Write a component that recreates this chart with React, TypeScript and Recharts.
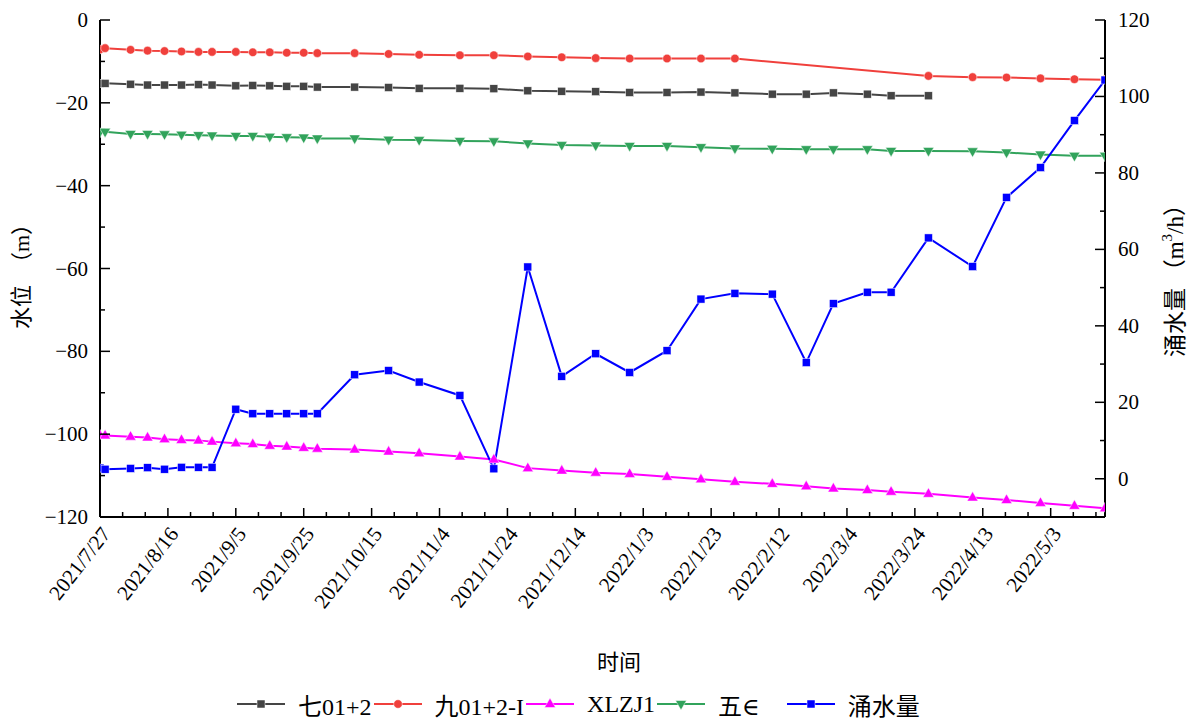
import React from 'react';
import { LineChart, Line, XAxis, YAxis } from 'recharts';

// days since 2021/7/27 for each sampling
const days = [0, 1.5, 9, 14, 19, 24, 29, 33, 40, 45, 50, 55, 60, 64, 75, 85, 94, 106, 116, 126, 136, 146, 156, 167, 177, 187, 198, 208, 216, 226, 233, 244, 257, 267, 277, 287, 296];

const qi = [-15.3, -15.3, -15.5, -15.7, -15.7, -15.7, -15.6, -15.7, -15.9, -15.8, -15.9, -16.0, -16.0, -16.2, -16.2, -16.3, -16.5, -16.5, -16.6, -17.1, -17.2, -17.3, -17.5, -17.5, -17.4, -17.6, -17.9, -17.9, -17.6, -17.9, -18.3, -18.3, null, null, null, null, null];
const jiu = [-7.1, -6.8, -7.2, -7.4, -7.5, -7.6, -7.7, -7.7, -7.7, -7.8, -7.8, -7.9, -7.9, -8.0, -8.0, -8.2, -8.4, -8.5, -8.5, -8.8, -9.0, -9.2, -9.3, -9.3, -9.3, -9.3, null, null, null, null, null, -13.5, -13.8, -13.9, -14.1, -14.3, -14.4];
const xlzj = [-100.3, -100.3, -100.6, -100.8, -101.2, -101.4, -101.5, -101.8, -102.2, -102.4, -102.8, -103.0, -103.3, -103.5, -103.7, -104.2, -104.6, -105.4, -106.1, -108.2, -108.8, -109.3, -109.6, -110.3, -110.9, -111.5, -112.0, -112.6, -113.1, -113.5, -113.9, -114.4, -115.3, -115.9, -116.6, -117.3, -117.9];
const wu = [-27.0, -27.0, -27.5, -27.5, -27.6, -27.7, -27.8, -27.9, -28.0, -28.0, -28.2, -28.3, -28.4, -28.6, -28.6, -28.9, -29.0, -29.2, -29.3, -29.8, -30.2, -30.3, -30.4, -30.4, -30.7, -31.0, -31.1, -31.2, -31.2, -31.2, -31.6, -31.6, -31.7, -32.0, -32.5, -32.8, -32.8];
const inflow = [2.8, 2.5, 2.7, 2.9, 2.5, 3.0, 3.0, 3.0, 18.2, 17.0, 17.0, 17.0, 17.0, 17.0, 27.2, 28.3, 25.3, 21.8, 2.6, 55.4, 26.8, 32.7, 27.8, 33.5, 47.0, 48.5, 48.3, 30.4, 45.8, 48.8, 48.8, 63.0, 55.5, 73.6, 81.4, 93.7, 104.3];

const xTickLabels = ['2021/7/27', '2021/8/16', '2021/9/5', '2021/9/25', '2021/10/15', '2021/11/4', '2021/11/24', '2021/12/14', '2022/1/3', '2022/1/23', '2022/2/12', '2022/3/4', '2022/3/24', '2022/4/13', '2022/5/3'];
const leftTicks = [-120, -110, -100, -90, -80, -70, -60, -50, -40, -30, -20, -10, 0];
const rightTicks = [-10, 0, 10, 20, 30, 40, 50, 60, 70, 80, 90, 100, 110, 120];

const FONT = "'Liberation Serif', 'Times New Roman', 'DejaVu Serif', 'Noto Sans CJK SC', serif";

const series = [
  { key: 'qi', name: '七01+2', color: '#454545', shape: 'square', values: qi },
  { key: 'jiu', name: '九01+2-I', color: '#F0403C', shape: 'circle', values: jiu },
  { key: 'xlzj', name: 'XLZJ1', color: '#FF00FF', shape: 'triUp', values: xlzj },
  { key: 'wu', name: '五∈', color: '#31A35B', shape: 'triDown', values: wu },
  { key: 'inflow', name: '涌水量', color: '#0000FF', shape: 'square', values: inflow, right: true },
];

const data = days.map((d, i) => {
  const row: any = { day: d };
  series.forEach((s) => { row[s.key] = s.values[i]; });
  return row;
});

// x ticks: majors every 20 days, two minors in between
const xTicks: number[] = [];
for (let k = 0; (k * 20) / 3 <= 296; k++) xTicks.push((k * 20) / 3);

function Marker({ shape, color, cx, cy }: any) {
  if (shape === 'circle') return <circle cx={cx} cy={cy} r={4.3} fill={color} stroke="#fff" strokeWidth={0.5} />;
  if (shape === 'triUp') return <polygon points={`${cx},${cy - 6} ${cx + 5.5},${cy + 3.5} ${cx - 5.5},${cy + 3.5}`} fill={color} stroke="#fff" strokeWidth={0.5} />;
  if (shape === 'triDown') return <polygon points={`${cx},${cy + 6} ${cx + 5.5},${cy - 3.5} ${cx - 5.5},${cy - 3.5}`} fill={color} stroke="#fff" strokeWidth={0.5} />;
  return <rect x={cx - 4} y={cy - 4} width={8} height={8} fill={color} stroke="#fff" strokeWidth={0.5} />;
}

const makeDot = (shape: string, color: string) => (props: any) => {
  const { cx, cy, index } = props;
  if (cx == null || cy == null || isNaN(cy)) return <g key={`d-${index}`} />;
  return <g key={`d-${index}`}><Marker shape={shape} color={color} cx={cx} cy={cy} /></g>;
};

const XTick = ({ x, y, payload }: any) => {
  const v = payload.value;
  const major = Math.abs(v / 20 - Math.round(v / 20)) < 1e-6;
  const label = major ? xTickLabels[Math.round(v / 20)] : null;
  const lx = x + 6, ly = y + 13;
  return (
    <g>
      <line x1={x} x2={x} y1={y} y2={y - (major ? 9 : 5)} stroke="#000" strokeWidth={1.5} />
      {label && (
        <text x={lx} y={ly} textAnchor="end" dominantBaseline="central" fontSize={21} fontFamily={FONT} fill="#000"
          transform={`rotate(-52, ${lx}, ${ly})`}>{label}</text>
      )}
    </g>
  );
};

const fmt = (v: number) => (v < 0 ? '\u2212' + Math.abs(v) : String(v));

const LeftTick = ({ x, y, payload }: any) => {
  const v = payload.value;
  const major = v % 20 === 0;
  return (
    <g>
      <line x1={x} x2={x + (major ? 10 : 5)} y1={y} y2={y} stroke="#000" strokeWidth={1.5} />
      {major && <text x={x - 12} y={y} textAnchor="end" dominantBaseline="central" fontSize={21} fontFamily={FONT} fill="#000">{fmt(v)}</text>}
    </g>
  );
};

const RightTick = ({ x, y, payload }: any) => {
  const v = payload.value;
  const major = v % 20 === 0;
  return (
    <g>
      <line x1={x} x2={x - (major ? 10 : 5)} y1={y} y2={y} stroke="#000" strokeWidth={1.5} />
      {major && <text x={x + 13} y={y} textAnchor="start" dominantBaseline="central" fontSize={21} fontFamily={FONT} fill="#000">{fmt(v)}</text>}
    </g>
  );
};

const XTitle = ({ viewBox }: any) => (
  <text x={611} y={viewBox.y + 145} textAnchor="middle" dominantBaseline="central" fontSize={22} fontFamily={FONT}>时间</text>
);
const LeftTitle = () => {
  const cx = 13, cy = 263;
  return (
    <text x={cx} y={cy} textAnchor="middle" dominantBaseline="central" fontSize={22} fontFamily={FONT} transform={`rotate(-90, ${cx}, ${cy})`}>水位{'\u3000'}（m）</text>
  );
};
const RightTitle = () => {
  const cx = 1167, cy = 267;
  return (
    <text x={cx} y={cy} textAnchor="middle" dominantBaseline="central" fontSize={23} fontFamily={FONT} transform={`rotate(-90, ${cx}, ${cy})`}>
      涌水量 （m<tspan dy={-8} fontSize={15}>3</tspan><tspan dy={8}>/h）</tspan>
    </text>
  );
};

export default function App() {
  return (
    <div style={{ position: 'relative', width: 1183, height: 710, fontFamily: FONT }}>
      <LineChart width={1183} height={710} data={data} margin={{ top: 12, right: 0, bottom: 41, left: 0 }}>
        <XAxis dataKey="day" type="number" domain={[0, 296]} ticks={xTicks} interval={0} allowDataOverflow
          height={160} tickSize={0} tickMargin={0} tick={<XTick />} axisLine={{ stroke: '#000', strokeWidth: 2 }}
          label={{ content: (p: any) => <XTitle {...p} /> }} />
        <YAxis yAxisId="left" type="number" domain={[-120, 0]} ticks={leftTicks} interval={0} allowDataOverflow
          width={92} tickSize={0} tickMargin={0} tick={<LeftTick />} axisLine={{ stroke: '#000', strokeWidth: 2 }}
          label={{ content: () => <LeftTitle /> }} />
        <YAxis yAxisId="right" orientation="right" type="number" domain={[-10, 120]} ticks={rightTicks} interval={0} allowDataOverflow
          width={86} tickSize={0} tickMargin={0} tick={<RightTick />} axisLine={{ stroke: '#000', strokeWidth: 2 }}
          label={{ content: () => <RightTitle /> }} />
        {series.map((s) => (
          <Line key={s.key} yAxisId={s.right ? 'right' : 'left'} type="linear" dataKey={s.key} name={s.name}
            stroke={s.color} strokeWidth={2} dot={makeDot(s.shape, s.color)} activeDot={false}
            connectNulls={s.key === 'jiu'} isAnimationActive={false} />
        ))}
      </LineChart>
      <div style={{ position: 'absolute', top: 682, left: 229, height: 28, display: 'flex', alignItems: 'center', fontSize: 24, whiteSpace: 'nowrap' }}>
        {series.map((s) => (
          <div key={s.key} style={{ display: 'flex', alignItems: 'center', marginLeft: s.right ? 25 : 0 }}>
            <svg width={48} height={20}>
              <line x1={0} x2={48} y1={10} y2={10} stroke={s.color} strokeWidth={2} />
              <Marker shape={s.shape} color={s.color} cx={24} cy={10} />
            </svg>
            <span style={{ marginLeft: 13, marginRight: 2 }}>{s.name}</span>
          </div>
        ))}
      </div>
    </div>
  );
}
